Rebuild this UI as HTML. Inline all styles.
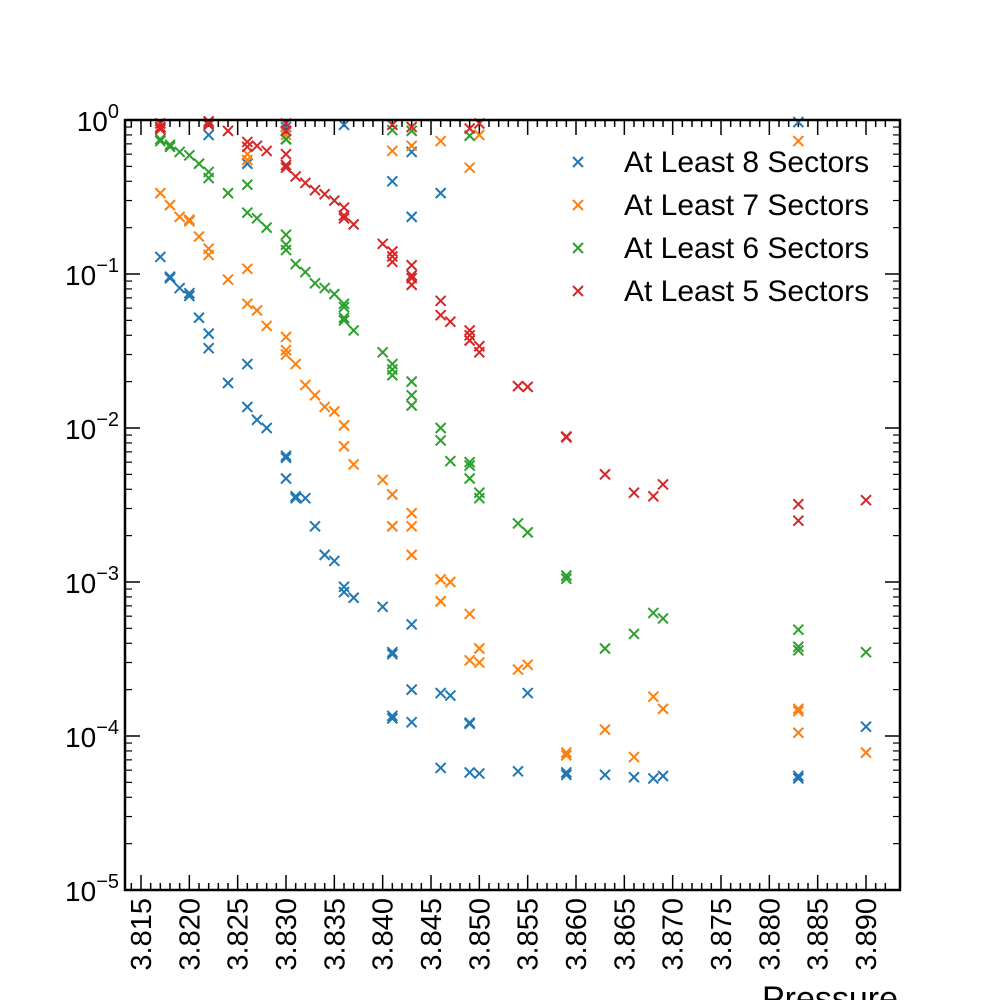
<!DOCTYPE html>
<html><head><meta charset="utf-8"><style>
body{margin:0;background:#fff}
svg text{font-family:"Liberation Sans",sans-serif;fill:#000}
</style></head><body>
<svg id="chart" width="1000" height="1000" viewBox="0 0 1000 1000" xmlns="http://www.w3.org/2000/svg">
<g id="ticks"></g>
<g id="marks"></g>
<rect x="125" y="120" width="775" height="770" fill="none" stroke="#000" stroke-width="2.5"/>
<g id="legend"></g>
<text x="898" y="1010" font-size="34" text-anchor="end">Pressure</text>
</svg>
<script>
const xTicks=[3.815,3.820,3.825,3.830,3.835,3.840,3.845,3.850,3.855,3.860,3.865,3.870,3.875,3.880,3.885,3.890];
const xTickLabels=["3.815","3.820","3.825","3.830","3.835","3.840","3.845","3.850","3.855","3.860","3.865","3.870","3.875","3.880","3.885","3.890"];
const yExps=[0,-1,-2,-3,-4,-5];
const seriesNames=["At Least 8 Sectors","At Least 7 Sectors","At Least 6 Sectors","At Least 5 Sectors"];
const s8x=[3.817,3.817,3.818,3.818,3.819,3.820,3.820,3.821,3.822,3.822,3.822,3.824,3.826,3.826,3.826,3.827,3.828,3.830,3.830,3.830,3.830,3.830,3.831,3.831,3.832,3.833,3.834,3.835,3.836,3.836,3.837,3.836,3.840,3.841,3.841,3.841,3.841,3.841,3.843,3.843,3.843,3.843,3.843,3.846,3.846,3.846,3.847,3.849,3.849,3.849,3.850,3.854,3.855,3.859,3.859,3.863,3.866,3.868,3.869,3.883,3.883,3.883,3.890];
const s8y=[0.129,0.9,0.096,0.094,0.081,0.075,0.072,0.052,0.041,0.033,0.80,0.0196,0.026,0.0137,0.52,0.0113,0.010,0.0066,0.0064,0.0047,0.9,0.75,0.0036,0.0035,0.0035,0.0023,0.0015,0.00137,0.00093,0.00086,0.00079,0.93,0.00069,0.00035,0.00034,0.000135,0.00013,0.40,0.00053,0.0002,0.000123,0.62,0.235,0.335,0.00019,6.2e-5,0.000183,1.22e-4,1.2e-4,5.8e-5,5.7e-5,5.9e-5,1.9e-4,5.8e-5,5.6e-5,5.6e-5,5.4e-5,5.3e-5,5.5e-5,5.5e-5,5.3e-5,0.97,1.15e-4];
const s7x=[3.817,3.817,3.817,3.818,3.819,3.820,3.820,3.821,3.822,3.822,3.824,3.826,3.826,3.826,3.826,3.827,3.828,3.830,3.830,3.830,3.830,3.831,3.832,3.833,3.834,3.835,3.836,3.836,3.837,3.840,3.841,3.841,3.841,3.841,3.843,3.843,3.843,3.843,3.846,3.846,3.846,3.847,3.849,3.849,3.849,3.850,3.850,3.850,3.854,3.855,3.859,3.859,3.863,3.866,3.868,3.869,3.883,3.883,3.883,3.883,3.890];
const s7y=[0.335,0.95,0.88,0.28,0.235,0.22,0.225,0.175,0.146,0.133,0.092,0.108,0.064,0.60,0.55,0.058,0.046,0.039,0.032,0.03,0.8,0.026,0.019,0.0163,0.0137,0.0128,0.0104,0.0076,0.0058,0.0046,0.0037,0.0023,0.0023,0.63,0.0028,0.0023,0.0015,0.68,0.00104,0.00075,0.73,0.001,0.00062,0.49,0.00031,0.00037,0.0003,0.8,0.00027,0.00029,7.8e-5,7.5e-5,1.1e-4,7.3e-5,1.8e-4,1.5e-4,1.5e-4,1.45e-4,1.05e-4,0.73,7.8e-5];
const s6x=[3.817,3.817,3.818,3.818,3.819,3.820,3.821,3.822,3.822,3.824,3.826,3.826,3.827,3.828,3.830,3.830,3.830,3.830,3.830,3.831,3.832,3.833,3.834,3.835,3.836,3.836,3.836,3.836,3.837,3.840,3.841,3.841,3.841,3.841,3.843,3.843,3.843,3.843,3.846,3.846,3.847,3.849,3.849,3.849,3.849,3.850,3.850,3.854,3.855,3.859,3.859,3.863,3.866,3.868,3.869,3.883,3.883,3.883,3.890];
const s6y=[0.75,0.73,0.69,0.67,0.62,0.59,0.52,0.46,0.42,0.335,0.38,0.25,0.23,0.2,0.18,0.155,0.143,0.85,0.75,0.116,0.103,0.087,0.081,0.074,0.064,0.061,0.052,0.05,0.043,0.031,0.026,0.024,0.022,0.86,0.02,0.0163,0.014,0.85,0.01,0.0083,0.0061,0.006,0.0057,0.0047,0.79,0.0038,0.0035,0.0024,0.0021,0.0011,0.00105,0.00037,0.00046,0.00063,0.00058,0.00049,0.00038,0.00036,0.00035];
const s5x=[3.817,3.817,3.817,3.822,3.822,3.822,3.824,3.826,3.826,3.827,3.828,3.830,3.830,3.830,3.830,3.830,3.831,3.832,3.833,3.834,3.835,3.836,3.836,3.836,3.837,3.840,3.841,3.841,3.841,3.841,3.843,3.843,3.843,3.843,3.843,3.846,3.846,3.847,3.849,3.849,3.849,3.849,3.850,3.850,3.850,3.854,3.855,3.859,3.859,3.863,3.866,3.868,3.869,3.883,3.883,3.890];
const s5y=[0.95,0.9,0.87,0.98,0.95,0.93,0.85,0.72,0.67,0.68,0.63,0.95,0.85,0.6,0.51,0.49,0.43,0.39,0.35,0.33,0.30,0.27,0.24,0.23,0.21,0.157,0.14,0.13,0.12,0.93,0.114,0.098,0.094,0.085,0.9,0.067,0.054,0.049,0.043,0.04,0.037,0.88,0.034,0.031,0.95,0.0187,0.0185,0.0088,0.0087,0.005,0.0038,0.0036,0.0043,0.0032,0.0025,0.0034];
const colors=["#1f77b4","#ff7f0e","#2ca02c","#d62728"];
const NS="http://www.w3.org/2000/svg";
const X0=125,X1=900,Y0=120,Y1=890;
function xs(p){return 141+(p-3.815)*9666.7;}
function ys(v){return Y0+(-Math.log10(v))*(Y1-Y0)/5;}
function mk(tag,attrs,parent){const e=document.createElementNS(NS,tag);for(const k in attrs)e.setAttribute(k,attrs[k]);parent.appendChild(e);return e;}
const tg=document.getElementById('ticks');
for(let i=0;i<=78;i++){const p=3.815+(i-1)*0.001;const x=xs(p);if(x<X0||x>X1)continue;const major=Math.abs(((i-1)%5))===0;const L=major?15:7;
const t1=mk('line',{x1:x,x2:x,y1:Y1,y2:Y1-L,stroke:'#000','stroke-width':1.5},tg);


const t2=mk('line',{x1:x,x2:x,y1:Y0,y2:Y0+L,stroke:'#000','stroke-width':1.5},tg);

}
xTicks.forEach((p,i)=>{const x=xs(p);const t=mk('text',{transform:`translate(${x+10},${Y1+8}) rotate(-90)`,'font-size':29,'text-anchor':'end'},tg);t.textContent=xTickLabels[i];

});
yExps.forEach(e=>{const y=ys(Math.pow(10,e));
const a=mk('line',{x1:X0,x2:X0+15,y1:y,y2:y,stroke:'#000','stroke-width':1.5},tg);


const b=mk('line',{x1:X1,x2:X1-15,y1:y,y2:y,stroke:'#000','stroke-width':1.5},tg);


const t=mk('text',{x:X0-6,y:y+11,'font-size':28,'text-anchor':'end'},tg);


t.innerHTML='10<tspan dy="-13" font-size="20">'+(e<0?'\u2212'+(-e):'0')+'</tspan>';
if(e>-5){for(let m=2;m<=9;m++){const yy=ys(m*Math.pow(10,e-1));
const c=mk('line',{x1:X0,x2:X0+7,y1:yy,y2:yy,stroke:'#000','stroke-width':1.2},tg);


const d=mk('line',{x1:X1,x2:X1-7,y1:yy,y2:yy,stroke:'#000','stroke-width':1.2},tg);

}}});
function cross(g,x,y,c){const r=5;const p=mk('path',{d:`M${x-r},${y-r}L${x+r},${y+r}M${x-r},${y+r}L${x+r},${y-r}`,stroke:c,'stroke-width':2,fill:'none'},g);return p;}
const mg=document.getElementById('marks');
const all=[[s8x,s8y],[s7x,s7y],[s6x,s6y],[s5x,s5y]];
all.forEach((s,si)=>{const g=mk('g',{},mg);


s[0].forEach((p,i)=>{const m=cross(g,xs(p),ys(s[1][i]),colors[si]);

});});
const lg=document.getElementById('legend');
seriesNames.forEach((n,i)=>{const y=162+i*43;const g=mk('g',{},lg);


cross(g,578,y,colors[i]);
const t=mk('text',{x:624,y:y+10,'font-size':30},g);t.textContent=n;});
</script>
</body></html>
